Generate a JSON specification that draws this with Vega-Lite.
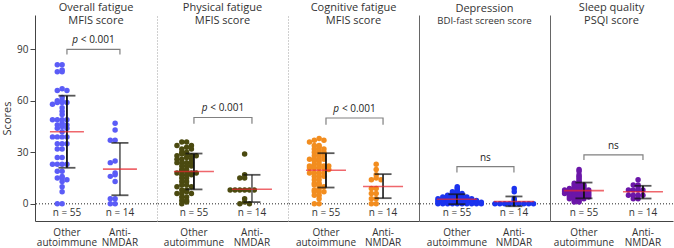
{
  "$schema": "https://vega.github.io/schema/vega-lite/v6.json",
  "padding": {"left": 1, "top": 2, "right": 0, "bottom": 0},
  "spacing": 0,
  "bounds": "flush",
  "config": {
    "view": {"stroke": null},
    "font": "Open Sans",
    "title": {"fontSize": 11, "fontWeight": "normal", "color": "#333333", "subtitleFontSize": 11, "subtitleColor": "#333333", "subtitleFont": "Open Sans", "subtitlePadding": 2, "offset": -11, "anchor": "middle", "frame": "group"},
    "axis": {"grid": false, "labelFont": "Open Sans", "titleFont": "Open Sans"}
  },
  "datasets": {
    "pts": [
      {"p":"A","g":"Other","v":81},{"p":"A","g":"Other","v":81},{"p":"A","g":"Other","v":78},{"p":"A","g":"Other","v":77},{"p":"A","g":"Other","v":77},
      {"p":"A","g":"Other","v":67},{"p":"A","g":"Other","v":66},{"p":"A","g":"Other","v":66},{"p":"A","g":"Other","v":62},{"p":"A","g":"Other","v":60},
      {"p":"A","g":"Other","v":60},{"p":"A","g":"Other","v":59},{"p":"A","g":"Other","v":59},{"p":"A","g":"Other","v":59},{"p":"A","g":"Other","v":58},
      {"p":"A","g":"Other","v":56},{"p":"A","g":"Other","v":54},{"p":"A","g":"Other","v":52},{"p":"A","g":"Other","v":49},{"p":"A","g":"Other","v":49},
      {"p":"A","g":"Other","v":49},{"p":"A","g":"Other","v":49},{"p":"A","g":"Other","v":47},{"p":"A","g":"Other","v":46},{"p":"A","g":"Other","v":46},
      {"p":"A","g":"Other","v":45},{"p":"A","g":"Other","v":44},{"p":"A","g":"Other","v":44},{"p":"A","g":"Other","v":42},{"p":"A","g":"Other","v":39},
      {"p":"A","g":"Other","v":39},{"p":"A","g":"Other","v":39},{"p":"A","g":"Other","v":39},{"p":"A","g":"Other","v":35},{"p":"A","g":"Other","v":35},
      {"p":"A","g":"Other","v":35},{"p":"A","g":"Other","v":32},{"p":"A","g":"Other","v":32},{"p":"A","g":"Other","v":27},{"p":"A","g":"Other","v":27},
      {"p":"A","g":"Other","v":23},{"p":"A","g":"Other","v":23},{"p":"A","g":"Other","v":23},{"p":"A","g":"Other","v":23},{"p":"A","g":"Other","v":19},
      {"p":"A","g":"Other","v":19},{"p":"A","g":"Other","v":16},{"p":"A","g":"Other","v":15},{"p":"A","g":"Other","v":15},{"p":"A","g":"Other","v":14},
      {"p":"A","g":"Other","v":13},{"p":"A","g":"Other","v":10},{"p":"A","g":"Other","v":7},{"p":"A","g":"Other","v":0},{"p":"A","g":"Other","v":0},
      {"p":"A","g":"Anti-NMDAR","v":47},{"p":"A","g":"Anti-NMDAR","v":43},{"p":"A","g":"Anti-NMDAR","v":37},{"p":"A","g":"Anti-NMDAR","v":37},
      {"p":"A","g":"Anti-NMDAR","v":25},{"p":"A","g":"Anti-NMDAR","v":24},{"p":"A","g":"Anti-NMDAR","v":18},{"p":"A","g":"Anti-NMDAR","v":17},
      {"p":"A","g":"Anti-NMDAR","v":16},{"p":"A","g":"Anti-NMDAR","v":13},{"p":"A","g":"Anti-NMDAR","v":3},{"p":"A","g":"Anti-NMDAR","v":3},
      {"p":"A","g":"Anti-NMDAR","v":0},{"p":"A","g":"Anti-NMDAR","v":0},

      {"p":"B","g":"Other","v":36},{"p":"B","g":"Other","v":36},{"p":"B","g":"Other","v":34},{"p":"B","g":"Other","v":34},{"p":"B","g":"Other","v":33},
      {"p":"B","g":"Other","v":32},{"p":"B","g":"Other","v":32},{"p":"B","g":"Other","v":30},{"p":"B","g":"Other","v":30},{"p":"B","g":"Other","v":29},
      {"p":"B","g":"Other","v":29},{"p":"B","g":"Other","v":28},{"p":"B","g":"Other","v":28},{"p":"B","g":"Other","v":28},{"p":"B","g":"Other","v":27},
      {"p":"B","g":"Other","v":26},{"p":"B","g":"Other","v":26},{"p":"B","g":"Other","v":26},{"p":"B","g":"Other","v":24},{"p":"B","g":"Other","v":24},
      {"p":"B","g":"Other","v":24},{"p":"B","g":"Other","v":24},{"p":"B","g":"Other","v":22},{"p":"B","g":"Other","v":22},{"p":"B","g":"Other","v":22},
      {"p":"B","g":"Other","v":20},{"p":"B","g":"Other","v":20},{"p":"B","g":"Other","v":19},{"p":"B","g":"Other","v":19},{"p":"B","g":"Other","v":18},
      {"p":"B","g":"Other","v":18},{"p":"B","g":"Other","v":18},{"p":"B","g":"Other","v":17},{"p":"B","g":"Other","v":17},{"p":"B","g":"Other","v":17},
      {"p":"B","g":"Other","v":15},{"p":"B","g":"Other","v":15},{"p":"B","g":"Other","v":13},{"p":"B","g":"Other","v":13},{"p":"B","g":"Other","v":11},
      {"p":"B","g":"Other","v":11},{"p":"B","g":"Other","v":10},{"p":"B","g":"Other","v":10},{"p":"B","g":"Other","v":8},{"p":"B","g":"Other","v":8},
      {"p":"B","g":"Other","v":7},{"p":"B","g":"Other","v":6},{"p":"B","g":"Other","v":6},{"p":"B","g":"Other","v":6},{"p":"B","g":"Other","v":4},
      {"p":"B","g":"Other","v":4},{"p":"B","g":"Other","v":2},{"p":"B","g":"Other","v":2},{"p":"B","g":"Other","v":1},{"p":"B","g":"Other","v":0},
      {"p":"B","g":"Anti-NMDAR","v":29},{"p":"B","g":"Anti-NMDAR","v":17},{"p":"B","g":"Anti-NMDAR","v":15},{"p":"B","g":"Anti-NMDAR","v":15},
      {"p":"B","g":"Anti-NMDAR","v":8},{"p":"B","g":"Anti-NMDAR","v":8},{"p":"B","g":"Anti-NMDAR","v":8},{"p":"B","g":"Anti-NMDAR","v":8},
      {"p":"B","g":"Anti-NMDAR","v":8},{"p":"B","g":"Anti-NMDAR","v":8},{"p":"B","g":"Anti-NMDAR","v":3},{"p":"B","g":"Anti-NMDAR","v":1},
      {"p":"B","g":"Anti-NMDAR","v":0},{"p":"B","g":"Anti-NMDAR","v":0},

      {"p":"C","g":"Other","v":38},{"p":"C","g":"Other","v":37},{"p":"C","g":"Other","v":37},{"p":"C","g":"Other","v":36},{"p":"C","g":"Other","v":34},
      {"p":"C","g":"Other","v":34},{"p":"C","g":"Other","v":33},{"p":"C","g":"Other","v":32},{"p":"C","g":"Other","v":32},{"p":"C","g":"Other","v":31},
      {"p":"C","g":"Other","v":30},{"p":"C","g":"Other","v":30},{"p":"C","g":"Other","v":29},{"p":"C","g":"Other","v":28},{"p":"C","g":"Other","v":28},
      {"p":"C","g":"Other","v":27},{"p":"C","g":"Other","v":26},{"p":"C","g":"Other","v":26},{"p":"C","g":"Other","v":26},{"p":"C","g":"Other","v":25},
      {"p":"C","g":"Other","v":25},{"p":"C","g":"Other","v":23},{"p":"C","g":"Other","v":23},{"p":"C","g":"Other","v":22},{"p":"C","g":"Other","v":22},
      {"p":"C","g":"Other","v":22},{"p":"C","g":"Other","v":21},{"p":"C","g":"Other","v":21},{"p":"C","g":"Other","v":21},{"p":"C","g":"Other","v":21},
      {"p":"C","g":"Other","v":20},{"p":"C","g":"Other","v":18},{"p":"C","g":"Other","v":18},{"p":"C","g":"Other","v":18},{"p":"C","g":"Other","v":18},
      {"p":"C","g":"Other","v":16},{"p":"C","g":"Other","v":16},{"p":"C","g":"Other","v":16},{"p":"C","g":"Other","v":14},{"p":"C","g":"Other","v":14},
      {"p":"C","g":"Other","v":12},{"p":"C","g":"Other","v":12},{"p":"C","g":"Other","v":11},{"p":"C","g":"Other","v":11},{"p":"C","g":"Other","v":10},
      {"p":"C","g":"Other","v":9},{"p":"C","g":"Other","v":8},{"p":"C","g":"Other","v":7},{"p":"C","g":"Other","v":7},{"p":"C","g":"Other","v":7},
      {"p":"C","g":"Other","v":5},{"p":"C","g":"Other","v":5},{"p":"C","g":"Other","v":3},{"p":"C","g":"Other","v":0},{"p":"C","g":"Other","v":0},
      {"p":"C","g":"Anti-NMDAR","v":23},{"p":"C","g":"Anti-NMDAR","v":20},{"p":"C","g":"Anti-NMDAR","v":17},{"p":"C","g":"Anti-NMDAR","v":15},
      {"p":"C","g":"Anti-NMDAR","v":14},{"p":"C","g":"Anti-NMDAR","v":14},{"p":"C","g":"Anti-NMDAR","v":9},{"p":"C","g":"Anti-NMDAR","v":9},
      {"p":"C","g":"Anti-NMDAR","v":6},{"p":"C","g":"Anti-NMDAR","v":6},{"p":"C","g":"Anti-NMDAR","v":3},{"p":"C","g":"Anti-NMDAR","v":3},
      {"p":"C","g":"Anti-NMDAR","v":0},{"p":"C","g":"Anti-NMDAR","v":0},

      {"p":"D","g":"Other","v":0},{"p":"D","g":"Other","v":0},{"p":"D","g":"Other","v":0},{"p":"D","g":"Other","v":0},{"p":"D","g":"Other","v":0},
      {"p":"D","g":"Other","v":0},{"p":"D","g":"Other","v":0},{"p":"D","g":"Other","v":0},{"p":"D","g":"Other","v":0},{"p":"D","g":"Other","v":0},
      {"p":"D","g":"Other","v":1},{"p":"D","g":"Other","v":1},{"p":"D","g":"Other","v":1},{"p":"D","g":"Other","v":1},{"p":"D","g":"Other","v":1},
      {"p":"D","g":"Other","v":1},{"p":"D","g":"Other","v":1},{"p":"D","g":"Other","v":1},{"p":"D","g":"Other","v":1},{"p":"D","g":"Other","v":1},
      {"p":"D","g":"Other","v":2},{"p":"D","g":"Other","v":2},{"p":"D","g":"Other","v":2},{"p":"D","g":"Other","v":2},{"p":"D","g":"Other","v":2},
      {"p":"D","g":"Other","v":2},{"p":"D","g":"Other","v":2},{"p":"D","g":"Other","v":2},{"p":"D","g":"Other","v":2},
      {"p":"D","g":"Other","v":3},{"p":"D","g":"Other","v":3},{"p":"D","g":"Other","v":3},{"p":"D","g":"Other","v":3},{"p":"D","g":"Other","v":3},
      {"p":"D","g":"Other","v":3},{"p":"D","g":"Other","v":3},{"p":"D","g":"Other","v":3},
      {"p":"D","g":"Other","v":4},{"p":"D","g":"Other","v":4},{"p":"D","g":"Other","v":4},{"p":"D","g":"Other","v":4},{"p":"D","g":"Other","v":4},{"p":"D","g":"Other","v":4},
      {"p":"D","g":"Other","v":5},{"p":"D","g":"Other","v":5},{"p":"D","g":"Other","v":5},{"p":"D","g":"Other","v":5},
      {"p":"D","g":"Other","v":6},{"p":"D","g":"Other","v":6},{"p":"D","g":"Other","v":6},
      {"p":"D","g":"Other","v":7},{"p":"D","g":"Other","v":7},{"p":"D","g":"Other","v":8},{"p":"D","g":"Other","v":9},{"p":"D","g":"Other","v":10},
      {"p":"D","g":"Anti-NMDAR","v":9},{"p":"D","g":"Anti-NMDAR","v":7},{"p":"D","g":"Anti-NMDAR","v":3},{"p":"D","g":"Anti-NMDAR","v":2},
      {"p":"D","g":"Anti-NMDAR","v":1},{"p":"D","g":"Anti-NMDAR","v":0},{"p":"D","g":"Anti-NMDAR","v":0},{"p":"D","g":"Anti-NMDAR","v":0},
      {"p":"D","g":"Anti-NMDAR","v":0},{"p":"D","g":"Anti-NMDAR","v":0},{"p":"D","g":"Anti-NMDAR","v":0},{"p":"D","g":"Anti-NMDAR","v":0},
      {"p":"D","g":"Anti-NMDAR","v":0},{"p":"D","g":"Anti-NMDAR","v":0},

      {"p":"E","g":"Other","v":20},{"p":"E","g":"Other","v":19},{"p":"E","g":"Other","v":17},{"p":"E","g":"Other","v":16},{"p":"E","g":"Other","v":15},
      {"p":"E","g":"Other","v":14},{"p":"E","g":"Other","v":13},{"p":"E","g":"Other","v":12},{"p":"E","g":"Other","v":12},{"p":"E","g":"Other","v":11},
      {"p":"E","g":"Other","v":11},{"p":"E","g":"Other","v":11},{"p":"E","g":"Other","v":10},{"p":"E","g":"Other","v":10},{"p":"E","g":"Other","v":10},
      {"p":"E","g":"Other","v":9},{"p":"E","g":"Other","v":9},{"p":"E","g":"Other","v":9},{"p":"E","g":"Other","v":9},
      {"p":"E","g":"Other","v":8},{"p":"E","g":"Other","v":8},{"p":"E","g":"Other","v":8},{"p":"E","g":"Other","v":8},{"p":"E","g":"Other","v":8},{"p":"E","g":"Other","v":8},
      {"p":"E","g":"Other","v":7},{"p":"E","g":"Other","v":7},{"p":"E","g":"Other","v":7},{"p":"E","g":"Other","v":7},{"p":"E","g":"Other","v":7},{"p":"E","g":"Other","v":7},
      {"p":"E","g":"Other","v":6},{"p":"E","g":"Other","v":6},{"p":"E","g":"Other","v":6},{"p":"E","g":"Other","v":6},{"p":"E","g":"Other","v":6},{"p":"E","g":"Other","v":6},
      {"p":"E","g":"Other","v":5},{"p":"E","g":"Other","v":5},{"p":"E","g":"Other","v":5},{"p":"E","g":"Other","v":5},{"p":"E","g":"Other","v":5},
      {"p":"E","g":"Other","v":4},{"p":"E","g":"Other","v":4},{"p":"E","g":"Other","v":4},{"p":"E","g":"Other","v":4},{"p":"E","g":"Other","v":4},
      {"p":"E","g":"Other","v":3},{"p":"E","g":"Other","v":3},{"p":"E","g":"Other","v":3},{"p":"E","g":"Other","v":3},
      {"p":"E","g":"Other","v":2},{"p":"E","g":"Other","v":2},{"p":"E","g":"Other","v":1},{"p":"E","g":"Other","v":1},
      {"p":"E","g":"Anti-NMDAR","v":14},{"p":"E","g":"Anti-NMDAR","v":11},{"p":"E","g":"Anti-NMDAR","v":11},{"p":"E","g":"Anti-NMDAR","v":10},
      {"p":"E","g":"Anti-NMDAR","v":8},{"p":"E","g":"Anti-NMDAR","v":8},{"p":"E","g":"Anti-NMDAR","v":8},{"p":"E","g":"Anti-NMDAR","v":8},
      {"p":"E","g":"Anti-NMDAR","v":5},{"p":"E","g":"Anti-NMDAR","v":5},{"p":"E","g":"Anti-NMDAR","v":5},{"p":"E","g":"Anti-NMDAR","v":5},
      {"p":"E","g":"Anti-NMDAR","v":3},{"p":"E","g":"Anti-NMDAR","v":3}
    ],
    "stats": [
      {"p":"A","g":"Other","mean":42,"lo":21,"hi":63,"n":"n = 55"},
      {"p":"A","g":"Anti-NMDAR","mean":20.2,"lo":5,"hi":35.5,"n":"n = 14"},
      {"p":"B","g":"Other","mean":18.8,"lo":8.4,"hi":29.3,"n":"n = 55"},
      {"p":"B","g":"Anti-NMDAR","mean":8.5,"lo":1,"hi":16.9,"n":"n = 14"},
      {"p":"C","g":"Other","mean":19.6,"lo":9.5,"hi":29.5,"n":"n = 55"},
      {"p":"C","g":"Anti-NMDAR","mean":10.1,"lo":3.3,"hi":17.3,"n":"n = 14"},
      {"p":"D","g":"Other","mean":2.7,"lo":-0.2,"hi":5.6,"n":"n = 55"},
      {"p":"D","g":"Anti-NMDAR","mean":1.4,"lo":-1.4,"hi":4.3,"n":"n = 14"},
      {"p":"E","g":"Other","mean":7.7,"lo":3.2,"hi":12.4,"n":"n = 55"},
      {"p":"E","g":"Anti-NMDAR","mean":7.0,"lo":3.1,"hi":10.5,"n":"n = 14"}
    ],
    "br": [
      {"p":"A","g":"Other","y":87,"k":1},{"p":"A","g":"Other","y":90,"k":2},{"p":"A","g":"Anti-NMDAR","y":90,"k":3},{"p":"A","g":"Anti-NMDAR","y":87,"k":4},
      {"p":"B","g":"Other","y":46.6,"k":1},{"p":"B","g":"Other","y":50.3,"k":2},{"p":"B","g":"Anti-NMDAR","y":50.3,"k":3},{"p":"B","g":"Anti-NMDAR","y":46.6,"k":4},
      {"p":"C","g":"Other","y":46,"k":1},{"p":"C","g":"Other","y":50,"k":2},{"p":"C","g":"Anti-NMDAR","y":50,"k":3},{"p":"C","g":"Anti-NMDAR","y":46,"k":4},
      {"p":"D","g":"Other","y":18.2,"k":1},{"p":"D","g":"Other","y":21.7,"k":2},{"p":"D","g":"Anti-NMDAR","y":21.7,"k":3},{"p":"D","g":"Anti-NMDAR","y":18.2,"k":4},
      {"p":"E","g":"Other","y":25.5,"k":1},{"p":"E","g":"Other","y":28.5,"k":2},{"p":"E","g":"Anti-NMDAR","y":28.5,"k":3},{"p":"E","g":"Anti-NMDAR","y":25.5,"k":4}
    ],
    "ann": [
      {"p":"A","y":90,"it":"p","rest":"< 0.001"},
      {"p":"B","y":50.3,"it":"p","rest":"< 0.001"},
      {"p":"C","y":50,"it":"p","rest":"< 0.001"},
      {"p":"D","y":21.7,"it":"","rest":"ns"},
      {"p":"E","y":28.5,"it":"","rest":"ns"}
    ]
  },
  "hconcat": [
    {
      "width": 122, "height": 206,
      "title": {"text": "Overall fatigue", "subtitle": "MFIS score"},
      "layer": [
        {"data": {"values": [{}]}, "mark": {"type": "rule", "strokeDash": [1, 2], "color": "#222222", "strokeWidth": 1}, "encoding": {"y": {"datum": 0, "type": "quantitative"}}},
        {"data": {"name": "pts"}, "transform": [{"filter": "datum.p == 'A'"}, {"bin": {"step": 2}, "field": "v", "as": "b"}, {"window": [{"op": "row_number", "as": "rn"}], "groupby": ["g", "b"]}],
         "mark": {"type": "circle", "size": 30, "opacity": 1, "color": "#5b5cf7"},
         "encoding": {
           "x": {"field": "g", "type": "nominal", "scale": {"domain": ["Other", "Anti-NMDAR"], "paddingInner": 0, "paddingOuter": 0.151, "align": 0.34},
                 "axis": {"title": null, "ticks": false, "domainColor": "#444444", "labelAngle": 0, "labelFontSize": 10, "labelColor": "#333333", "labelPadding": 6, "labelLineHeight": 10.5, "labelOverlap": false, "labelExpr": "datum.value == 'Anti-NMDAR' ? ['Anti-', 'NMDAR'] : ['Other', 'autoimmune']"}},
           "xOffset": {"field": "rn", "type": "ordinal", "scale": {"domain": [8, 6, 4, 2, 1, 3, 5, 7, 9]}},
           "y": {"field": "v", "type": "quantitative", "scale": {"domain": [-10, 110], "nice": false, "zero": false},
                 "axis": {"title": "Scores", "values": [0, 30, 60, 90], "tickSize": 5, "labelFontSize": 10, "labelPadding": 2, "labelColor": "#333333", "domainColor": "#444444", "tickColor": "#444444", "titleFontSize": 11, "titleFontWeight": "normal", "titleColor": "#333333", "titlePadding": 4}}
         }},
        {"data": {"name": "stats"}, "transform": [{"filter": "datum.p == 'A'"}], "mark": {"type": "rule", "strokeWidth": 1.8},
         "encoding": {"x": {"field": "g", "type": "nominal"}, "y": {"field": "lo", "type": "quantitative"}, "y2": {"field": "hi"},
                      "color": {"condition": {"test": "datum.g == 'Anti-NMDAR'", "value": "#6e6e6e"}, "value": "#111111"}}},
        {"data": {"name": "stats"}, "transform": [{"filter": "datum.p == 'A'"}], "mark": {"type": "tick", "size": 17, "thickness": 1.8, "color": "#111111"},
         "encoding": {"x": {"field": "g", "type": "nominal"}, "y": {"field": "lo", "type": "quantitative"}}},
        {"data": {"name": "stats"}, "transform": [{"filter": "datum.p == 'A'"}], "mark": {"type": "tick", "size": 17, "thickness": 1.8, "color": "#111111"},
         "encoding": {"x": {"field": "g", "type": "nominal"}, "y": {"field": "hi", "type": "quantitative"}}},
        {"data": {"name": "stats"}, "transform": [{"filter": "datum.p == 'A'"}], "mark": {"type": "tick", "size": 34, "thickness": 1.6, "color": "#e8262d"},
         "encoding": {"x": {"field": "g", "type": "nominal"}, "y": {"field": "mean", "type": "quantitative"}}},
        {"data": {"name": "stats"}, "transform": [{"filter": "datum.p == 'A'"}], "mark": {"type": "text", "fontSize": 10, "color": "#333333", "baseline": "middle"},
         "encoding": {"x": {"field": "g", "type": "nominal"}, "y": {"datum": -5.3, "type": "quantitative"}, "text": {"field": "n"}}},
        {"data": {"name": "br"}, "transform": [{"filter": "datum.p == 'A'"}], "mark": {"type": "line", "color": "#808080", "strokeWidth": 1.2},
         "encoding": {"x": {"field": "g", "type": "nominal"}, "y": {"field": "y", "type": "quantitative"}, "order": {"field": "k"}}},
        {"data": {"name": "ann"}, "transform": [{"filter": "datum.p == 'A'"}], "mark": {"type": "text", "fontSize": 10, "fontStyle": "italic", "align": "left", "baseline": "middle", "dx": 5.3, "dy": -9, "color": "#222222"},
         "encoding": {"x": {"datum": "Other"}, "y": {"field": "y", "type": "quantitative"}, "text": {"field": "it"}}},
        {"data": {"name": "ann"}, "transform": [{"filter": "datum.p == 'A'"}], "mark": {"type": "text", "fontSize": 10, "align": "left", "baseline": "middle", "dx": 13.9, "dy": -9, "color": "#222222"},
         "encoding": {"x": {"datum": "Other"}, "y": {"field": "y", "type": "quantitative"}, "text": {"field": "rest"}}}
      ]
    },
    {
      "width": 131, "height": 206,
      "title": {"text": "Physical fatigue", "subtitle": "MFIS score"},
      "layer": [
        {"data": {"values": [{}]}, "mark": {"type": "rule", "strokeDash": [1, 2], "color": "#222222", "strokeWidth": 1}, "encoding": {"y": {"datum": 0, "type": "quantitative"}}},
        {"data": {"name": "pts"}, "transform": [{"filter": "datum.p == 'B'"}, {"bin": {"step": 2}, "field": "v", "as": "b"}, {"window": [{"op": "row_number", "as": "rn"}], "groupby": ["g", "b"]}],
         "mark": {"type": "circle", "size": 30, "opacity": 1, "color": "#4b4a10"},
         "encoding": {
           "x": {"field": "g", "type": "nominal", "scale": {"domain": ["Other", "Anti-NMDAR"], "paddingInner": 0, "paddingOuter": 0.129, "align": 0.53},
                 "axis": {"title": null, "ticks": false, "domainColor": "#444444", "labelAngle": 0, "labelFontSize": 10, "labelColor": "#333333", "labelPadding": 6, "labelLineHeight": 10.5, "labelOverlap": false, "labelExpr": "datum.value == 'Anti-NMDAR' ? ['Anti-', 'NMDAR'] : ['Other', 'autoimmune']"}},
           "xOffset": {"field": "rn", "type": "ordinal", "scale": {"domain": [8, 6, 4, 2, 1, 3, 5, 7, 9]}},
           "y": {"field": "v", "type": "quantitative", "scale": {"domain": [-10, 110], "nice": false, "zero": false},
                 "axis": {"title": null, "labels": false, "ticks": false, "domainColor": "#a0a0a0", "domainDash": [1, 2]}}
         }},
        {"data": {"name": "stats"}, "transform": [{"filter": "datum.p == 'B'"}], "mark": {"type": "rule", "strokeWidth": 1.8},
         "encoding": {"x": {"field": "g", "type": "nominal"}, "y": {"field": "lo", "type": "quantitative"}, "y2": {"field": "hi"},
                      "color": {"condition": {"test": "datum.g == 'Anti-NMDAR'", "value": "#6e6e6e"}, "value": "#111111"}}},
        {"data": {"name": "stats"}, "transform": [{"filter": "datum.p == 'B'"}], "mark": {"type": "tick", "size": 17, "thickness": 1.8, "color": "#111111"},
         "encoding": {"x": {"field": "g", "type": "nominal"}, "y": {"field": "lo", "type": "quantitative"}}},
        {"data": {"name": "stats"}, "transform": [{"filter": "datum.p == 'B'"}], "mark": {"type": "tick", "size": 17, "thickness": 1.8, "color": "#111111"},
         "encoding": {"x": {"field": "g", "type": "nominal"}, "y": {"field": "hi", "type": "quantitative"}}},
        {"data": {"name": "stats"}, "transform": [{"filter": "datum.p == 'B'"}], "mark": {"type": "tick", "size": 40, "thickness": 1.6, "color": "#e8262d"},
         "encoding": {"x": {"field": "g", "type": "nominal"}, "y": {"field": "mean", "type": "quantitative"}}},
        {"data": {"name": "stats"}, "transform": [{"filter": "datum.p == 'B'"}], "mark": {"type": "text", "fontSize": 10, "color": "#333333", "baseline": "middle"},
         "encoding": {"x": {"field": "g", "type": "nominal"}, "y": {"datum": -5.3, "type": "quantitative"}, "text": {"field": "n"}}},
        {"data": {"name": "br"}, "transform": [{"filter": "datum.p == 'B'"}], "mark": {"type": "line", "color": "#808080", "strokeWidth": 1.2},
         "encoding": {"x": {"field": "g", "type": "nominal"}, "y": {"field": "y", "type": "quantitative"}, "order": {"field": "k"}}},
        {"data": {"name": "ann"}, "transform": [{"filter": "datum.p == 'B'"}], "mark": {"type": "text", "fontSize": 10, "fontStyle": "italic", "align": "left", "baseline": "middle", "dx": 7.8, "dy": -9, "color": "#222222"},
         "encoding": {"x": {"datum": "Other"}, "y": {"field": "y", "type": "quantitative"}, "text": {"field": "it"}}},
        {"data": {"name": "ann"}, "transform": [{"filter": "datum.p == 'B'"}], "mark": {"type": "text", "fontSize": 10, "align": "left", "baseline": "middle", "dx": 16.4, "dy": -9, "color": "#222222"},
         "encoding": {"x": {"datum": "Other"}, "y": {"field": "y", "type": "quantitative"}, "text": {"field": "rest"}}}
      ]
    },
    {
      "width": 131, "height": 206,
      "title": {"text": "Cognitive fatigue", "subtitle": "MFIS score"},
      "layer": [
        {"data": {"values": [{}]}, "mark": {"type": "rule", "strokeDash": [1, 2], "color": "#222222", "strokeWidth": 1}, "encoding": {"y": {"datum": 0, "type": "quantitative"}}},
        {"data": {"name": "pts"}, "transform": [{"filter": "datum.p == 'C'"}, {"bin": {"step": 2}, "field": "v", "as": "b"}, {"window": [{"op": "row_number", "as": "rn"}], "groupby": ["g", "b"]}],
         "mark": {"type": "circle", "size": 30, "opacity": 1, "color": "#f28d1f"},
         "encoding": {
           "x": {"field": "g", "type": "nominal", "scale": {"domain": ["Other", "Anti-NMDAR"], "paddingInner": 0, "paddingOuter": 0.148, "align": 0.56},
                 "axis": {"title": null, "ticks": false, "domainColor": "#444444", "labelAngle": 0, "labelFontSize": 10, "labelColor": "#333333", "labelPadding": 6, "labelLineHeight": 10.5, "labelOverlap": false, "labelExpr": "datum.value == 'Anti-NMDAR' ? ['Anti-', 'NMDAR'] : ['Other', 'autoimmune']"}},
           "xOffset": {"field": "rn", "type": "ordinal", "scale": {"domain": [8, 6, 4, 2, 1, 3, 5, 7, 9]}},
           "y": {"field": "v", "type": "quantitative", "scale": {"domain": [-10, 110], "nice": false, "zero": false},
                 "axis": {"title": null, "labels": false, "ticks": false, "domainColor": "#a0a0a0", "domainDash": [1, 2]}}
         }},
        {"data": {"name": "stats"}, "transform": [{"filter": "datum.p == 'C'"}], "mark": {"type": "rule", "strokeWidth": 1.8},
         "encoding": {"x": {"field": "g", "type": "nominal"}, "y": {"field": "lo", "type": "quantitative"}, "y2": {"field": "hi"},
                      "color": {"condition": {"test": "datum.g == 'Anti-NMDAR'", "value": "#333333"}, "value": "#111111"}}},
        {"data": {"name": "stats"}, "transform": [{"filter": "datum.p == 'C'"}], "mark": {"type": "tick", "size": 17, "thickness": 1.8, "color": "#111111"},
         "encoding": {"x": {"field": "g", "type": "nominal"}, "y": {"field": "lo", "type": "quantitative"}}},
        {"data": {"name": "stats"}, "transform": [{"filter": "datum.p == 'C'"}], "mark": {"type": "tick", "size": 17, "thickness": 1.8, "color": "#111111"},
         "encoding": {"x": {"field": "g", "type": "nominal"}, "y": {"field": "hi", "type": "quantitative"}}},
        {"data": {"name": "stats"}, "transform": [{"filter": "datum.p == 'C'"}], "mark": {"type": "tick", "size": 40, "thickness": 1.6, "color": "#e8262d"},
         "encoding": {"x": {"field": "g", "type": "nominal"}, "y": {"field": "mean", "type": "quantitative"}}},
        {"data": {"name": "stats"}, "transform": [{"filter": "datum.p == 'C'"}], "mark": {"type": "text", "fontSize": 10, "color": "#333333", "baseline": "middle"},
         "encoding": {"x": {"field": "g", "type": "nominal"}, "y": {"datum": -5.3, "type": "quantitative"}, "text": {"field": "n"}}},
        {"data": {"name": "br"}, "transform": [{"filter": "datum.p == 'C'"}], "mark": {"type": "line", "color": "#808080", "strokeWidth": 1.2},
         "encoding": {"x": {"field": "g", "type": "nominal"}, "y": {"field": "y", "type": "quantitative"}, "order": {"field": "k"}}},
        {"data": {"name": "ann"}, "transform": [{"filter": "datum.p == 'C'"}], "mark": {"type": "text", "fontSize": 10, "fontStyle": "italic", "align": "left", "baseline": "middle", "dx": 7.3, "dy": -9, "color": "#222222"},
         "encoding": {"x": {"datum": "Other"}, "y": {"field": "y", "type": "quantitative"}, "text": {"field": "it"}}},
        {"data": {"name": "ann"}, "transform": [{"filter": "datum.p == 'C'"}], "mark": {"type": "text", "fontSize": 10, "align": "left", "baseline": "middle", "dx": 15.9, "dy": -9, "color": "#222222"},
         "encoding": {"x": {"datum": "Other"}, "y": {"field": "y", "type": "quantitative"}, "text": {"field": "rest"}}}
      ]
    },
    {
      "width": 131, "height": 206,
      "title": {"text": "Depression", "subtitle": "BDI-fast screen score", "subtitleFontSize": 9.6},
      "layer": [
        {"data": {"values": [{}]}, "mark": {"type": "rule", "strokeDash": [1, 2], "color": "#222222", "strokeWidth": 1}, "encoding": {"y": {"datum": 0, "type": "quantitative"}}},
        {"data": {"name": "pts"}, "transform": [{"filter": "datum.p == 'D'"}, {"window": [{"op": "row_number", "as": "rn"}], "groupby": ["g", "v"]}],
         "mark": {"type": "circle", "size": 30, "opacity": 1, "color": "#1b33ee"},
         "encoding": {
           "x": {"field": "g", "type": "nominal", "scale": {"domain": ["Other", "Anti-NMDAR"], "paddingInner": 0.25, "paddingOuter": 0.274, "align": 0.53},
                 "axis": {"title": null, "ticks": false, "domainColor": "#444444", "labelAngle": 0, "labelFontSize": 10, "labelColor": "#333333", "labelPadding": 6, "labelLineHeight": 10.5, "labelOverlap": false, "labelExpr": "datum.value == 'Anti-NMDAR' ? ['Anti-', 'NMDAR'] : ['Other', 'autoimmune']"}},
           "xOffset": {"field": "rn", "type": "ordinal", "scale": {"domain": [10, 8, 6, 4, 2, 1, 3, 5, 7, 9, 11]}},
           "y": {"field": "v", "type": "quantitative", "scale": {"domain": [-10, 110], "nice": false, "zero": false},
                 "axis": {"title": null, "labels": false, "ticks": false, "domainColor": "#666666"}}
         }},
        {"data": {"name": "stats"}, "transform": [{"filter": "datum.p == 'D'"}], "mark": {"type": "rule", "strokeWidth": 1.8},
         "encoding": {"x": {"field": "g", "type": "nominal"}, "y": {"field": "lo", "type": "quantitative"}, "y2": {"field": "hi"},
                      "color": {"value": "#111111"}}},
        {"data": {"name": "stats"}, "transform": [{"filter": "datum.p == 'D'"}], "mark": {"type": "tick", "size": 17, "thickness": 1.8, "color": "#111111"},
         "encoding": {"x": {"field": "g", "type": "nominal"}, "y": {"field": "lo", "type": "quantitative"}}},
        {"data": {"name": "stats"}, "transform": [{"filter": "datum.p == 'D'"}], "mark": {"type": "tick", "size": 17, "thickness": 1.8, "color": "#111111"},
         "encoding": {"x": {"field": "g", "type": "nominal"}, "y": {"field": "hi", "type": "quantitative"}}},
        {"data": {"name": "stats"}, "transform": [{"filter": "datum.p == 'D'"}], "mark": {"type": "tick", "size": 40, "thickness": 1.6, "color": "#e8262d"},
         "encoding": {"x": {"field": "g", "type": "nominal"}, "y": {"field": "mean", "type": "quantitative"}}},
        {"data": {"name": "stats"}, "transform": [{"filter": "datum.p == 'D'"}], "mark": {"type": "text", "fontSize": 10, "color": "#333333", "baseline": "middle"},
         "encoding": {"x": {"field": "g", "type": "nominal"}, "y": {"datum": -5.3, "type": "quantitative"}, "text": {"field": "n"}}},
        {"data": {"name": "br"}, "transform": [{"filter": "datum.p == 'D'"}], "mark": {"type": "line", "color": "#808080", "strokeWidth": 1.2},
         "encoding": {"x": {"field": "g", "type": "nominal"}, "y": {"field": "y", "type": "quantitative"}, "order": {"field": "k"}}},
        {"data": {"name": "ann"}, "transform": [{"filter": "datum.p == 'D'"}], "mark": {"type": "text", "fontSize": 10, "align": "center", "baseline": "middle", "dx": 28.5, "dy": -9, "color": "#222222"},
         "encoding": {"x": {"datum": "Other"}, "y": {"field": "y", "type": "quantitative"}, "text": {"field": "rest"}}}
      ]
    },
    {
      "width": 123, "height": 206,
      "title": {"text": "Sleep quality", "subtitle": "PSQI score"},
      "layer": [
        {"data": {"values": [{}]}, "mark": {"type": "rule", "strokeDash": [1, 2], "color": "#222222", "strokeWidth": 1}, "encoding": {"y": {"datum": 0, "type": "quantitative"}}},
        {"data": {"name": "pts"}, "transform": [{"filter": "datum.p == 'E'"}, {"window": [{"op": "row_number", "as": "rn"}], "groupby": ["g", "v"]}],
         "mark": {"type": "circle", "size": 30, "opacity": 1, "color": "#6b16a8"},
         "encoding": {
           "x": {"field": "g", "type": "nominal", "scale": {"domain": ["Other", "Anti-NMDAR"], "paddingInner": 0.1, "paddingOuter": 0.092, "align": 0.68},
                 "axis": {"title": null, "ticks": false, "domainColor": "#444444", "labelAngle": 0, "labelFontSize": 10, "labelColor": "#333333", "labelPadding": 6, "labelLineHeight": 10.5, "labelOverlap": false, "labelExpr": "datum.value == 'Anti-NMDAR' ? ['Anti-', 'NMDAR'] : ['Other', 'autoimmune']"}},
           "xOffset": {"field": "rn", "type": "ordinal", "scale": {"domain": [8, 6, 4, 2, 1, 3, 5, 7, 9]}},
           "y": {"field": "v", "type": "quantitative", "scale": {"domain": [-10, 110], "nice": false, "zero": false},
                 "axis": {"title": null, "labels": false, "ticks": false, "domainColor": "#666666"}}
         }},
        {"data": {"name": "stats"}, "transform": [{"filter": "datum.p == 'E'"}], "mark": {"type": "rule", "strokeWidth": 1.8},
         "encoding": {"x": {"field": "g", "type": "nominal"}, "y": {"field": "lo", "type": "quantitative"}, "y2": {"field": "hi"},
                      "color": {"value": "#111111"}}},
        {"data": {"name": "stats"}, "transform": [{"filter": "datum.p == 'E'"}], "mark": {"type": "tick", "size": 17, "thickness": 1.8, "color": "#111111"},
         "encoding": {"x": {"field": "g", "type": "nominal"}, "y": {"field": "lo", "type": "quantitative"}}},
        {"data": {"name": "stats"}, "transform": [{"filter": "datum.p == 'E'"}], "mark": {"type": "tick", "size": 17, "thickness": 1.8, "color": "#111111"},
         "encoding": {"x": {"field": "g", "type": "nominal"}, "y": {"field": "hi", "type": "quantitative"}}},
        {"data": {"name": "stats"}, "transform": [{"filter": "datum.p == 'E'"}], "mark": {"type": "tick", "size": 40, "thickness": 1.6, "color": "#e8262d"},
         "encoding": {"x": {"field": "g", "type": "nominal"}, "y": {"field": "mean", "type": "quantitative"}}},
        {"data": {"name": "stats"}, "transform": [{"filter": "datum.p == 'E'"}], "mark": {"type": "text", "fontSize": 10, "color": "#333333", "baseline": "middle"},
         "encoding": {"x": {"field": "g", "type": "nominal"}, "y": {"datum": -5.3, "type": "quantitative"}, "text": {"field": "n"}}},
        {"data": {"name": "br"}, "transform": [{"filter": "datum.p == 'E'"}], "mark": {"type": "line", "color": "#808080", "strokeWidth": 1.2},
         "encoding": {"x": {"field": "g", "type": "nominal"}, "y": {"field": "y", "type": "quantitative"}, "order": {"field": "k"}}},
        {"data": {"name": "ann"}, "transform": [{"filter": "datum.p == 'E'"}], "mark": {"type": "text", "fontSize": 10, "align": "center", "baseline": "middle", "dx": 29.5, "dy": -9, "color": "#222222"},
         "encoding": {"x": {"datum": "Other"}, "y": {"field": "y", "type": "quantitative"}, "text": {"field": "rest"}}}
      ]
    }
  ]
}
